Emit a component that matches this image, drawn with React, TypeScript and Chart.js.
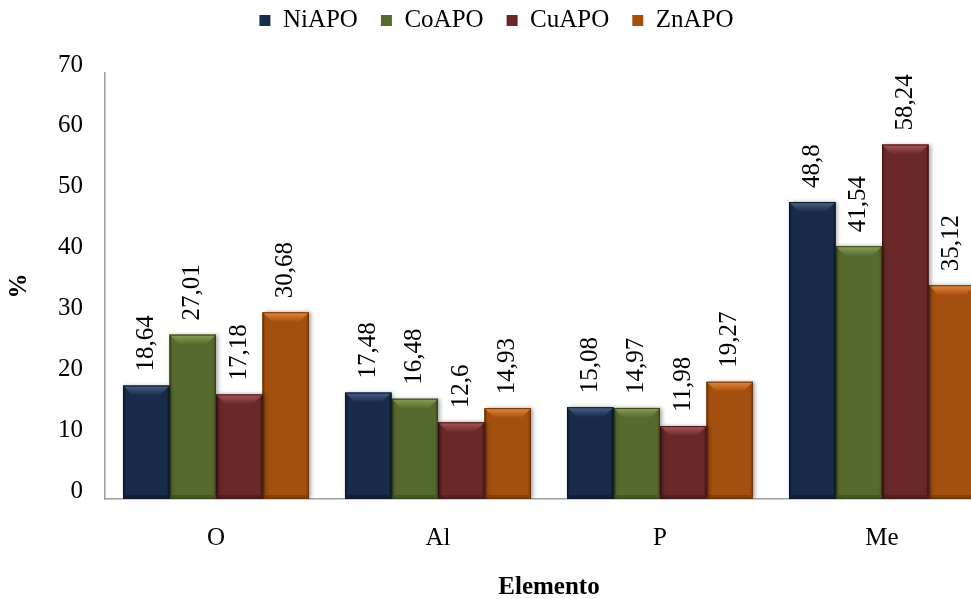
import { useEffect, useRef } from "react";
import { Chart, registerables } from "chart.js";

Chart.register(...registerables);

// Composition by element (%), per catalyst
const elements = ["O", "Al", "P", "Me"];
const seriesNames = ["NiAPO", "CoAPO", "CuAPO", "ZnAPO"];
const niAPO = [18.64, 17.48, 15.08, 48.8];
const coAPO = [27.01, 16.48, 14.97, 41.54];
const cuAPO = [17.18, 12.6, 11.98, 58.24];
const znAPO = [30.68, 14.93, 19.27, 35.12];
const yMin = 0;
const yMax = 70;
const yStep = 10;

const SERIF = '"Liberation Serif", "Times New Roman", serif';
const baseColors = ["#182b49", "#566a2e", "#6a2829", "#a34f0f"];
const lightColors = ["#4a6284", "#8aa05a", "#a8575a", "#e5883a"];
const darkColors = ["#0c1729", "#37461a", "#451819", "#6e3407"];

const formatValue = (v: number) => String(v).replace(".", ",");

// Bevelled look of the bars plus a soft shadow on the right
const bevelPlugin = {
  id: "bevel",
  beforeDatasetDraw(chart: any) {
    const ctx = chart.ctx;
    ctx.save();
    ctx.shadowColor = "rgba(0,0,0,0.35)";
    ctx.shadowBlur = 4;
    ctx.shadowOffsetX = 2;
    ctx.shadowOffsetY = 0;
  },
  afterDatasetDraw(chart: any, args: any) {
    const ctx = chart.ctx;
    ctx.restore();
    const i = args.index;
    args.meta.data.forEach((bar: any) => {
      const { x, y, base, width } = bar.getProps(["x", "y", "base", "width"], true);
      const l = x - width / 2;
      const r = x + width / 2;
      const t = Math.min(y, base);
      const b = Math.max(y, base);
      const h = b - t;
      const tb = Math.min(10, h / 2);
      const sb = 3;
      const bb = Math.min(4, h / 4);
      ctx.save();
      // left edge
      const gl = ctx.createLinearGradient(l, 0, l + sb, 0);
      gl.addColorStop(0, darkColors[i]);
      gl.addColorStop(1, baseColors[i]);
      ctx.fillStyle = gl;
      ctx.beginPath();
      ctx.moveTo(l, t);
      ctx.lineTo(l + sb, t + sb);
      ctx.lineTo(l + sb, b - bb);
      ctx.lineTo(l, b);
      ctx.closePath();
      ctx.fill();
      // right edge
      const gr = ctx.createLinearGradient(r - sb, 0, r, 0);
      gr.addColorStop(0, baseColors[i]);
      gr.addColorStop(1, darkColors[i]);
      ctx.fillStyle = gr;
      ctx.beginPath();
      ctx.moveTo(r, t);
      ctx.lineTo(r - sb, t + sb);
      ctx.lineTo(r - sb, b - bb);
      ctx.lineTo(r, b);
      ctx.closePath();
      ctx.fill();
      // bottom edge
      ctx.fillStyle = darkColors[i];
      ctx.globalAlpha = 0.55;
      ctx.beginPath();
      ctx.moveTo(l, b);
      ctx.lineTo(r, b);
      ctx.lineTo(r - sb, b - bb);
      ctx.lineTo(l + sb, b - bb);
      ctx.closePath();
      ctx.fill();
      ctx.globalAlpha = 1;
      // top bevel
      const gt = ctx.createLinearGradient(0, t, 0, t + tb);
      gt.addColorStop(0, lightColors[i]);
      gt.addColorStop(1, baseColors[i]);
      ctx.fillStyle = gt;
      ctx.beginPath();
      ctx.moveTo(l, t);
      ctx.lineTo(r, t);
      ctx.lineTo(r - tb, t + tb);
      ctx.lineTo(l + tb, t + tb);
      ctx.closePath();
      ctx.fill();
      // outline
      ctx.strokeStyle = darkColors[i];
      ctx.lineWidth = 1;
      ctx.strokeRect(l + 0.5, t + 0.5, width - 1, h - 1);
      ctx.restore();
    });
  },
};

// Vertical value labels above each bar
const valueLabelPlugin = {
  id: "valueLabels",
  afterDatasetsDraw(chart: any) {
    const ctx = chart.ctx;
    ctx.save();
    ctx.font = `25px ${SERIF}`;
    ctx.fillStyle = "#000";
    ctx.textAlign = "left";
    ctx.textBaseline = "middle";
    chart.data.datasets.forEach((ds: any, di: number) => {
      const meta = chart.getDatasetMeta(di);
      meta.data.forEach((bar: any, j: number) => {
        const { x, y } = bar.getProps(["x", "y"], true);
        ctx.save();
        ctx.translate(x, y - 14);
        ctx.rotate(-Math.PI / 2);
        ctx.fillText(formatValue(ds.data[j]), 0, 0);
        ctx.restore();
      });
    });
    ctx.restore();
  },
};

export default function App() {
  const canvasRef = useRef<HTMLCanvasElement | null>(null);

  useEffect(() => {
    const canvas = canvasRef.current;
    if (!canvas) return;
    const seriesData = [niAPO, coAPO, cuAPO, znAPO];
    const chart = new Chart(canvas, {
      type: "bar",
      data: {
        labels: elements,
        datasets: seriesNames.map((name, i) => ({
          label: name,
          data: seriesData[i],
          backgroundColor: baseColors[i],
          borderWidth: 0,
          barPercentage: 1,
          categoryPercentage: 0.838,
        })),
      },
      options: {
        animation: false,
        responsive: false,
        devicePixelRatio: 1,
        layout: { padding: { top: 0, right: 9, bottom: 0, left: 0 } },
        plugins: {
          legend: {
            position: "top",
            labels: {
              boxWidth: 11,
              boxHeight: 11,
              padding: 23,
              color: "#000",
              font: { family: SERIF, size: 25 },
            },
          },
          // empty spacer between the legend and the plot area
          subtitle: {
            display: true,
            text: "",
            position: "top",
            weight: 500,
            font: { size: 10 },
            padding: { top: 0, bottom: 18 },
          },
          tooltip: { enabled: false },
        },
        scales: {
          x: {
            grid: { display: false, drawTicks: false },
            border: { display: true, color: "#a0a0a0", width: 1.5 },
            ticks: { color: "#000", font: { family: SERIF, size: 25 }, padding: 24 },
            title: {
              display: true,
              text: "Elemento",
              color: "#000",
              font: { family: SERIF, size: 25, weight: "bold" },
              padding: { top: 0, bottom: 0 },
            },
            afterFit: (s: any) => {
              s.height = 104;
            },
          },
          y: {
            min: yMin,
            max: yMax,
            grid: { display: false, drawTicks: false },
            border: { display: true, color: "#a0a0a0", width: 1.5 },
            ticks: {
              stepSize: yStep,
              color: "#000",
              font: { family: SERIF, size: 25 },
              padding: 22,
              labelOffset: -8,
            },
            title: {
              display: true,
              text: "%",
              color: "#000",
              font: { family: SERIF, size: 25, weight: "bold" },
              padding: { top: 5, bottom: 0 },
            },
            afterFit: (s: any) => {
              s.width = 105;
            },
          },
        },
      } as any,
      plugins: [bevelPlugin, valueLabelPlugin],
    });
    return () => chart.destroy();
  }, []);

  return (
    <div
      style={{
        position: "fixed",
        left: 0,
        top: 0,
        width: 971,
        height: 599,
        overflow: "hidden",
        background: "#fff",
      }}
    >
      <canvas
        ref={canvasRef}
        width={1002}
        height={618}
        style={{ position: "absolute", left: 0, top: -15, width: 1002, height: 618 }}
      />
    </div>
  );
}
